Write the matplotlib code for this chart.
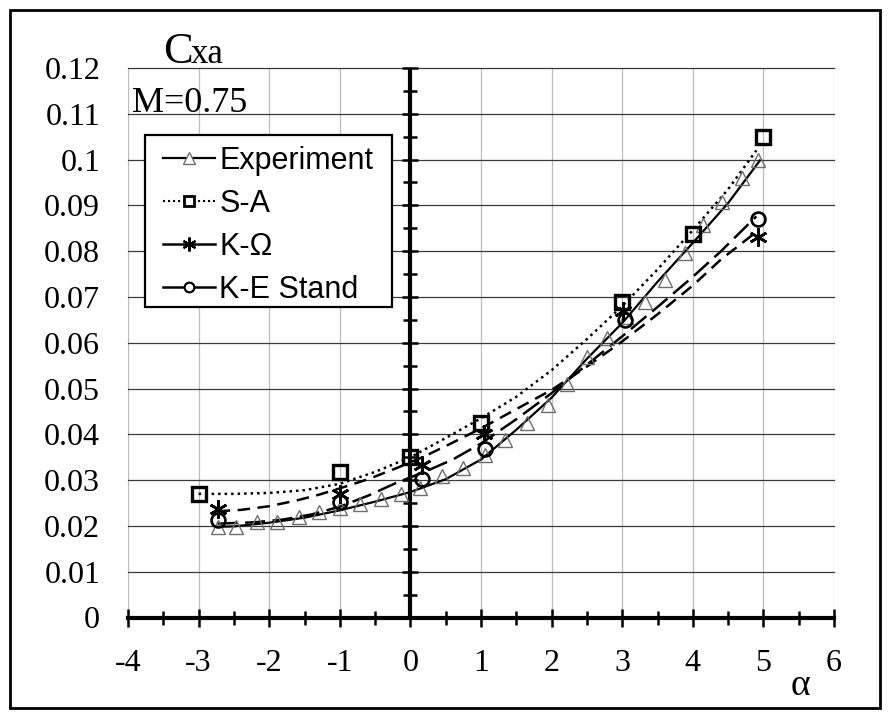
import matplotlib
matplotlib.use('Agg')
import matplotlib.pyplot as plt
from matplotlib.lines import Line2D
from matplotlib.patches import Rectangle
from matplotlib.ticker import MultipleLocator, FixedLocator
import numpy as np

# ---------------- data ----------------
# Experiment: markers and smooth curve
exp_alpha = [-2.73, -2.47, -2.17, -1.89, -1.58, -1.29, -1.0, -0.72, -0.42, -0.14,
             0.14, 0.45, 0.75, 1.06, 1.34, 1.65, 1.95, 2.22, 2.5, 2.78,
             3.06, 3.32, 3.61, 3.89, 4.15, 4.41, 4.69, 4.93]
exp_cx = [0.0197, 0.0197, 0.0208, 0.0208, 0.0219, 0.0230, 0.0240, 0.0248, 0.0259, 0.0270,
          0.0282, 0.0310, 0.0326, 0.0354, 0.0387, 0.0424, 0.0463, 0.0511, 0.0569, 0.0610,
          0.0656, 0.0689, 0.0737, 0.0795, 0.0857, 0.0908, 0.0960, 0.0999]
exp_line_alpha = [-2.75, -2.5, -2.0, -1.5, -1.0, -0.5, 0.0, 0.5, 1.0, 1.5, 2.0, 2.5,
                  3.0, 3.5, 4.0, 4.5, 4.95]
exp_line_cx = [0.0198, 0.0199, 0.0207, 0.0218, 0.0234, 0.0253, 0.0274, 0.0302, 0.0345,
               0.0410, 0.0480, 0.0565, 0.0643, 0.0733, 0.0818, 0.0905, 0.0998]

# S-A
sa_alpha = [-3.0, -1.0, 0.0, 1.0, 3.0, 4.0, 5.0]
sa_cx = [0.0270, 0.0318, 0.0350, 0.0424, 0.0689, 0.0838, 0.1050]
sa_line_alpha = [-3.0, -2.5, -2.0, -1.5, -1.0, -0.5, 0.0, 0.5, 1.0, 1.5, 2.0, 2.5,
                 3.0, 3.5, 4.0, 4.5, 4.9]
sa_line_cx = [0.0270, 0.0270, 0.0272, 0.0278, 0.0292, 0.0318, 0.0350, 0.0392, 0.0435,
              0.0482, 0.0540, 0.0608, 0.0680, 0.0760, 0.0846, 0.0935, 0.1020]

# K-Omega
kw_alpha = [-2.73, -1.0, 0.17, 1.04, 3.01, 4.93]
kw_cx = [0.0238, 0.0270, 0.0332, 0.0401, 0.0670, 0.0831]
kw_line_alpha = [-2.73, -2.4, -2.0, -1.6, -1.3, -1.0, -0.6, -0.2, 0.2, 0.6, 1.0, 1.5,
                 2.0, 2.5, 3.0, 3.5, 4.0, 4.4, 4.9]
kw_line_cx = [0.0232, 0.0235, 0.0243, 0.0256, 0.0268, 0.0282, 0.0302, 0.0326, 0.0352,
              0.0382, 0.0413, 0.0455, 0.0497, 0.0548, 0.0603, 0.0662, 0.0725, 0.0782, 0.0842]

# K-E Stand
ke_alpha = [-2.73, -1.0, 0.17, 1.06, 3.04, 4.93]
ke_cx = [0.0212, 0.0252, 0.0303, 0.0369, 0.0649, 0.0871]
ke_line_alpha = [-2.73, -2.2, -1.8, -1.4, -1.0, -0.6, -0.2, 0.2, 0.6, 1.0, 1.5, 2.0,
                 2.5, 3.0, 3.5, 4.0, 4.4, 4.9]
ke_line_cx = [0.0205, 0.0208, 0.0214, 0.0225, 0.0242, 0.0266, 0.0294, 0.0318, 0.0345,
              0.0380, 0.0433, 0.0490, 0.0552, 0.0614, 0.0678, 0.0744, 0.0800, 0.0876]

x_ticks = [-4, -3, -2, -1, 0, 1, 2, 3, 4, 5, 6]
x_tick_labels = ['-4', '-3', '-2', '-1', '0', '1', '2', '3', '4', '5', '6']
y_ticks = [0, 0.01, 0.02, 0.03, 0.04, 0.05, 0.06, 0.07, 0.08, 0.09, 0.1, 0.11, 0.12]
y_tick_labels = ['0', '0.01', '0.02', '0.03', '0.04', '0.05', '0.06', '0.07', '0.08',
                 '0.09', '0.1', '0.11', '0.12']
legend_labels = ['Experiment', 'S-A', 'K-\u03a9', 'K-E Stand']

# ---------------- figure ----------------
W, H = 890, 718
fig = plt.figure(figsize=(W / 100, H / 100), dpi=100)
ax = fig.add_axes([128 / W, 1 - 617.5 / H, (834 - 128) / W, (617.5 - 68) / H])
ax.set_xlim(-4, 6)
ax.set_ylim(0, 0.12)

serif = 'Liberation Serif'
sans = 'Liberation Sans'

# grid
for xv in x_ticks:
    ax.axvline(xv, color='#bcbcbc', lw=0.9, zorder=0.5)
for yv in y_ticks[1:]:
    ax.axhline(yv, color='#3a3a3a', lw=0.9, zorder=0.6, clip_on=False)

# spines
for s in ['top', 'right', 'left']:
    ax.spines[s].set_visible(False)
ax.spines['bottom'].set_linewidth(3.0)
ax.spines['bottom'].set_zorder(3)

ax.xaxis.set_major_locator(FixedLocator(x_ticks))
ax.xaxis.set_minor_locator(MultipleLocator(0.5))
ax.set_xticklabels(x_tick_labels, fontfamily=serif, fontsize=23)
ax.tick_params(axis='x', which='major', direction='inout', length=13, width=1.8, pad=16)
ax.tick_params(axis='x', which='minor', direction='inout', length=9.5, width=1.8)

ax.yaxis.set_major_locator(FixedLocator(y_ticks))
ax.set_yticklabels(y_tick_labels, fontfamily=serif, fontsize=23)
ax.tick_params(axis='y', which='major', length=0, pad=20)

# central vertical axis at alpha = 0 with its ticks
ax.axvline(0, color='black', lw=3.0, zorder=3)
maj_y = np.arange(0.01, 0.1201, 0.01)
min_y = np.arange(0.005, 0.12, 0.01)
ax.plot(np.zeros_like(maj_y), maj_y, ls='none', marker='_', ms=12, mew=1.8,
        color='black', zorder=3, clip_on=False)
ax.plot(np.zeros_like(min_y), min_y, ls='none', marker='_', ms=9.5, mew=1.8,
        color='black', zorder=3, clip_on=False)

# curves
ax.plot(exp_line_alpha, exp_line_cx, color='black', lw=1.6, zorder=4)
ax.plot(sa_line_alpha, sa_line_cx, color='black', lw=1.8, ls=(0, (1, 1.6)), zorder=4)
ax.plot(kw_line_alpha, kw_line_cx, color='black', lw=1.8, ls=(0, (5, 3)), zorder=4)
ax.plot(ke_line_alpha, ke_line_cx, color='black', lw=1.8, ls=(0, (8, 3)), zorder=4)

# markers
ax.plot(exp_alpha, exp_cx, ls='none', marker='^', ms=10, mfc='none', mec='#6e6e6e',
        mew=1.0, zorder=5)
ax.plot(sa_alpha, sa_cx, ls='none', marker='s', ms=10.5, mfc='none', mec='black',
        mew=2.4, zorder=5, clip_on=False)
ax.plot(kw_alpha, kw_cx, ls='none', marker=(6, 2, 0), ms=13, mec='black',
        mew=1.9, zorder=5)
ax.plot(ke_alpha, ke_cx, ls='none', marker='o', ms=10, mfc='none', mec='black',
        mew=1.9, zorder=5)

# legend (frame drawn separately)
handles = [
    Line2D([], [], color='black', lw=1.6, marker='^', ms=8, mfc='white', mec='#6e6e6e', mew=1.0),
    Line2D([], [], color='black', lw=1.5, ls=(0, (1, 1.4)), marker='s', ms=7, mfc='white', mec='black', mew=2.0),
    Line2D([], [], color='black', lw=1.8, marker=(6, 2, 0), ms=10, mec='black', mew=1.6),
    Line2D([], [], color='black', lw=1.8, marker='o', ms=7, mfc='white', mec='black', mew=1.6),
]
fig.patches.append(Rectangle((145 / W, 1 - 307 / H), (392 - 145) / W, (307 - 135) / H,
                             transform=fig.transFigure, facecolor='white',
                             edgecolor='black', lw=1.6, zorder=9))
leg = fig.legend(handles, legend_labels, loc='upper left',
                 bbox_to_anchor=(145 / W, 1 - 128 / H), borderaxespad=0,
                 prop={'family': sans, 'size': 22}, handlelength=1.7,
                 handletextpad=0.14, labelspacing=0.42, borderpad=0.59,
                 frameon=False)
leg.set_zorder(10)

# texts
fig.text(163 / W, 1 - 63 / H, 'C', fontfamily=serif, fontsize=32, va='baseline', ha='left')
fig.text(191 / W, 1 - 63 / H, 'xa', fontfamily=serif, fontsize=25, va='baseline', ha='left')
fig.text(132 / W, 1 - 112 / H, 'M=0.75', fontfamily=serif, fontsize=26, va='baseline', ha='left')
fig.text(800 / W, 1 - 695 / H, '\u03b1', fontfamily=serif, fontsize=27, va='baseline', ha='center')

# outer border
fig.patches.append(Rectangle((10 / W, 10 / H), 870 / W, 698 / H, transform=fig.transFigure,
                             fill=False, edgecolor='black', lw=2.0))

fig.savefig('out.png', dpi=100)
